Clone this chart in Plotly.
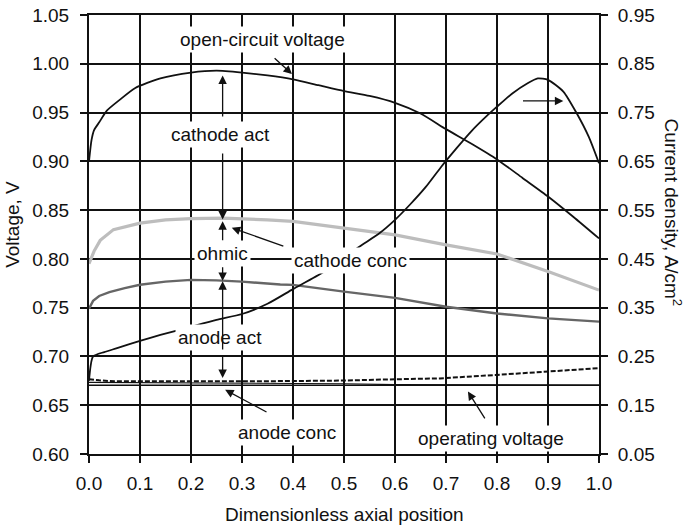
import plotly.graph_objects as go

# ---------------- data ----------------
x_ocv = [0, 0.005, 0.01, 0.02, 0.035, 0.06, 0.09, 0.14, 0.2, 0.25, 0.3, 0.35, 0.4,
         0.45, 0.5, 0.55, 0.6, 0.65, 0.7, 0.75, 0.8, 0.85, 0.9, 0.95, 1.0]
v_ocv = [0.900, 0.922, 0.932, 0.940, 0.952, 0.963, 0.975, 0.985, 0.991, 0.993, 0.991,
         0.988, 0.984, 0.978, 0.972, 0.967, 0.960, 0.949, 0.933, 0.918, 0.902, 0.883,
         0.864, 0.843, 0.821]

x_cc = [0, 0.005, 0.01, 0.022, 0.048, 0.1, 0.15, 0.2, 0.263, 0.35, 0.4, 0.5, 0.6,
        0.7, 0.8, 0.9, 1.0]
v_cathode_conc = [0.795, 0.801, 0.808, 0.819, 0.830, 0.8366, 0.840, 0.8412, 0.8417,
                  0.840, 0.8385, 0.8315, 0.8246, 0.8143, 0.805, 0.787, 0.768]

x_oh = [0, 0.008, 0.02, 0.04, 0.07, 0.1, 0.15, 0.2, 0.25, 0.3, 0.375, 0.4, 0.5, 0.6,
        0.7, 0.8, 0.9, 1.0]
v_ohmic = [0.749, 0.757, 0.762, 0.766, 0.770, 0.7735, 0.7767, 0.7785, 0.778, 0.7767,
           0.7737, 0.7734, 0.7665, 0.760, 0.751, 0.744, 0.739, 0.7357]

x_aa = [0, 0.02, 0.05, 0.1, 0.2, 0.3, 0.4, 0.5, 0.6, 0.688, 0.8, 0.9, 1.0]
v_anode_act = [0.6767, 0.6755, 0.6745, 0.6744, 0.6744, 0.6745, 0.6748, 0.6753, 0.6766,
               0.6775, 0.6811, 0.6845, 0.688]

x_ac = [0, 0.1, 0.2, 0.3, 0.4, 0.5, 0.6, 0.8, 1.0]
v_anode_conc = [0.6735, 0.6733, 0.6732, 0.6731, 0.6728, 0.672, 0.6712, 0.6708, 0.6706]

x_op = [0, 1.0]
v_operating = [0.6705, 0.6705]

x_j = [0, 0.008, 0.03, 0.055, 0.1, 0.14, 0.2, 0.25, 0.3, 0.35, 0.4, 0.46, 0.53, 0.57,
       0.6, 0.63, 0.66, 0.69, 0.72, 0.75, 0.78, 0.8, 0.83, 0.86, 0.88, 0.9, 0.93, 0.956,
       0.98, 1.0]
j_current = [0.200, 0.250, 0.259, 0.267, 0.282, 0.294, 0.311, 0.325, 0.337, 0.358,
             0.388, 0.423, 0.475, 0.503, 0.530, 0.562, 0.597, 0.638, 0.676, 0.712,
             0.743, 0.762, 0.789, 0.810, 0.820, 0.817, 0.793, 0.749, 0.700, 0.646]

x_ticks = [0.0, 0.1, 0.2, 0.3, 0.4, 0.5, 0.6, 0.7, 0.8, 0.9, 1.0]

INK = "#111111"
FONT = dict(family="Liberation Sans, Arial, sans-serif", size=19, color=INK)
TICKFONT = dict(family="Liberation Sans, Arial, sans-serif", size=19, color=INK)

fig = go.Figure()
fig.add_trace(go.Scatter(x=x_cc, y=v_cathode_conc, mode="lines",
                         line=dict(color="#bdbdbd", width=3.2)))
fig.add_trace(go.Scatter(x=x_oh, y=v_ohmic, mode="lines",
                         line=dict(color="#666666", width=2.4)))
fig.add_trace(go.Scatter(x=x_ac, y=v_anode_conc, mode="lines",
                         line=dict(color=INK, width=1.2)))
fig.add_trace(go.Scatter(x=x_op, y=v_operating, mode="lines",
                         line=dict(color=INK, width=1.6)))
fig.add_trace(go.Scatter(x=x_aa, y=v_anode_act, mode="lines",
                         line=dict(color=INK, width=2.0, dash="5px,2px")))
fig.add_trace(go.Scatter(x=x_ocv, y=v_ocv, mode="lines",
                         line=dict(color=INK, width=1.8, shape="spline", smoothing=0.6)))
fig.add_trace(go.Scatter(x=x_j, y=j_current, mode="lines", yaxis="y2",
                         line=dict(color=INK, width=1.8, shape="spline", smoothing=0.6)))


def label(text, x, y):
    return dict(x=x, y=y, xref="x", yref="y", text=text, showarrow=False,
                bgcolor="white", font=FONT, borderpad=2)


def arrow(x0, y0, x1, y1):
    return dict(x=x1, y=y1, ax=x0, ay=y0, xref="x", yref="y", axref="x", ayref="y",
                text="", showarrow=True, arrowhead=2, arrowsize=1.3, arrowwidth=1.3,
                arrowcolor=INK, standoff=0, startstandoff=0)


def title(text, x, y, angle):
    return dict(x=x, y=y, xref="paper", yref="paper", text=text, showarrow=False,
                textangle=angle, font=FONT, xanchor="center", yanchor="middle")


annotations = [
    label("open-circuit voltage", 0.341, 1.0244),
    arrow(0.361, 1.007, 0.398, 0.9895),
    label("cathode act", 0.257, 0.927),
    arrow(0.262, 0.9445, 0.262, 0.988),
    arrow(0.262, 0.9096, 0.262, 0.8405),
    label("ohmic", 0.262, 0.8055),
    arrow(0.262, 0.8175, 0.262, 0.8385),
    arrow(0.262, 0.793, 0.262, 0.7775),
    label("cathode conc", 0.512, 0.7985),
    arrow(0.384, 0.8126, 0.280, 0.8318),
    label("anode act", 0.256, 0.719),
    arrow(0.262, 0.7055, 0.262, 0.777),
    arrow(0.262, 0.7015, 0.262, 0.678),
    label("anode conc", 0.388, 0.6217),
    arrow(0.351, 0.6422, 0.267, 0.6658),
    label("operating voltage", 0.788, 0.6156),
    arrow(0.778, 0.635, 0.743, 0.664),
    arrow(0.848, 0.9619, 0.930, 0.9619),
    title("Voltage, V", -0.149, 0.522, -90),
    title("Current density, A/cm<sup>2</sup>", 1.145, 0.55, 90),
    title("Dimensionless axial position", 0.5, -0.137, 0),
]

axis_common = dict(showline=True, linecolor=INK, linewidth=2, ticks="outside",
                   ticklen=7, tickwidth=1.5, tickcolor=INK, tickfont=TICKFONT,
                   zeroline=False, automargin=False)

fig.update_layout(
    width=688, height=525,
    margin=dict(l=89, r=89, t=15, b=71, autoexpand=False),
    paper_bgcolor="white", plot_bgcolor="white",
    showlegend=False,
    annotations=annotations,
    xaxis=dict(range=[0, 1.0], tickvals=x_ticks, tickformat=".1f", mirror=True,
               showgrid=True, gridcolor=INK, gridwidth=1.6, ticklabelstandoff=4,
               **axis_common),
    yaxis=dict(range=[0.60, 1.05], dtick=0.05, tick0=0.60, tickformat=".2f",
               showgrid=True, gridcolor=INK, gridwidth=1.6, ticklabelstandoff=7,
               **axis_common),
    yaxis2=dict(range=[0.05, 0.95], dtick=0.1, tick0=0.05, tickformat=".2f",
                overlaying="y", side="right", showgrid=False, ticklabelstandoff=6,
                **axis_common),
)

fig.write_html("out.html")
